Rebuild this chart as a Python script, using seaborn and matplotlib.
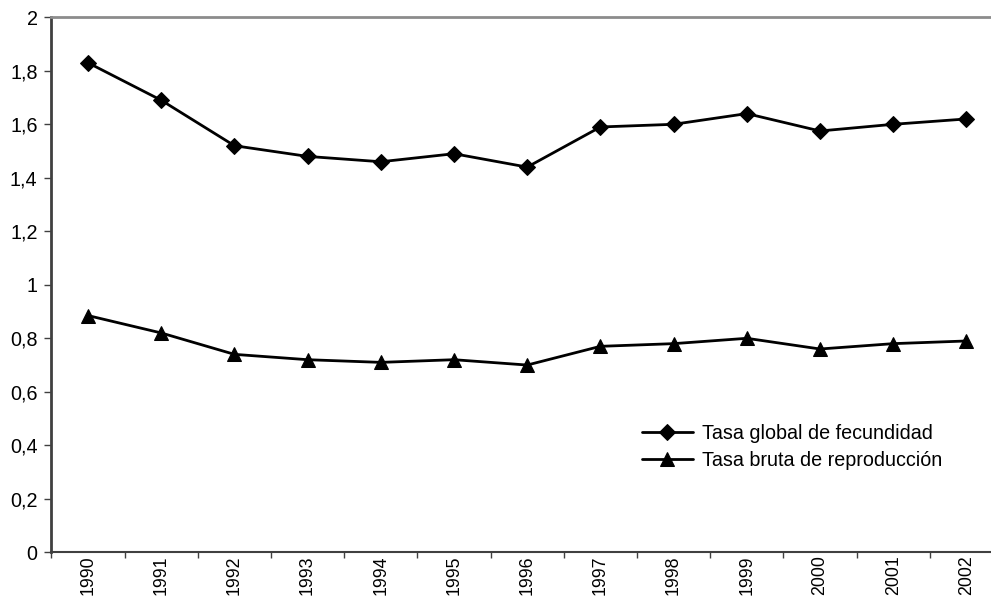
import pandas as pd
import seaborn as sns
import matplotlib.pyplot as plt

years = [1990, 1991, 1992, 1993, 1994, 1995, 1996, 1997, 1998, 1999, 2000, 2001, 2002]
tgf = [1.83, 1.69, 1.52, 1.48, 1.46, 1.49, 1.44, 1.59, 1.60, 1.64, 1.575, 1.60, 1.62]
tbr = [0.885, 0.82, 0.74, 0.72, 0.71, 0.72, 0.70, 0.77, 0.78, 0.80, 0.76, 0.78, 0.79]
y_ticks = [0, 0.2, 0.4, 0.6, 0.8, 1.0, 1.2, 1.4, 1.6, 1.8, 2.0]
y_labels = ['0', '0,2', '0,4', '0,6', '0,8', '1', '1,2', '1,4', '1,6', '1,8', '2']

df = pd.DataFrame({'year': years, 'Tasa global de fecundidad': tgf,
                   'Tasa bruta de reproducción': tbr})

sns.set_style('white')
plt.rcParams['font.family'] = ['Liberation Sans', 'DejaVu Sans']
plt.rcParams['text.color'] = 'black'
plt.rcParams['xtick.labelcolor'] = 'black'
plt.rcParams['ytick.labelcolor'] = 'black'
fs = 14.2

W, H = 991, 598
fig = plt.figure(figsize=(W / 100, H / 100), dpi=100)
ax = fig.add_axes([51.4 / W, (H - 552.3) / H, (1003 - 51.4) / W, 535 / H])

sns.lineplot(ax=ax, data=df, x='year', y='Tasa global de fecundidad',
             color='black', marker='D', markersize=8.5, linewidth=2,
             markeredgecolor='black', label='Tasa global de fecundidad')
sns.lineplot(ax=ax, data=df, x='year', y='Tasa bruta de reproducción',
             color='black', marker='^', markersize=10.5, linewidth=2,
             markeredgecolor='black', label='Tasa bruta de reproducción')

ax.set_xlim(1989.5, 2002.5)
ax.set_ylim(0, 2)
ax.set_xticks(years)
ax.set_xticklabels([str(y) for y in years], rotation=90, fontsize=12.8)
ax.set_xticks([y + 0.5 for y in [1989] + years], minor=True)
ax.tick_params(axis='x', which='major', length=0, pad=2, labelcolor='black')
ax.tick_params(axis='x', which='minor', length=4, width=1, color='#404040',
               direction='out', bottom=True)
ax.set_yticks(y_ticks)
ax.set_yticklabels(y_labels, fontsize=fs)
ax.tick_params(axis='y', length=5, width=1, color='#404040', direction='out',
               left=True, pad=5, labelcolor='black')
ax.set_xlabel('')
ax.set_ylabel('')

ax.spines['right'].set_visible(False)
ax.spines['top'].set_color('#8c8c8c')
ax.spines['top'].set_linewidth(2)
ax.spines['left'].set_color('#404040')
ax.spines['left'].set_linewidth(2)
ax.spines['bottom'].set_color('#404040')
ax.spines['bottom'].set_linewidth(1.5)

leg = ax.legend(loc='upper left', bbox_to_anchor=(641.7 / W, (H - 424) / H),
                bbox_transform=fig.transFigure, frameon=False, fontsize=fs,
                handlelength=2.6, handletextpad=0.45, labelspacing=0.42,
                borderpad=0, borderaxespad=0)
for t in leg.get_texts():
    t.set_color('black')

fig.savefig('out.png', dpi=100)
